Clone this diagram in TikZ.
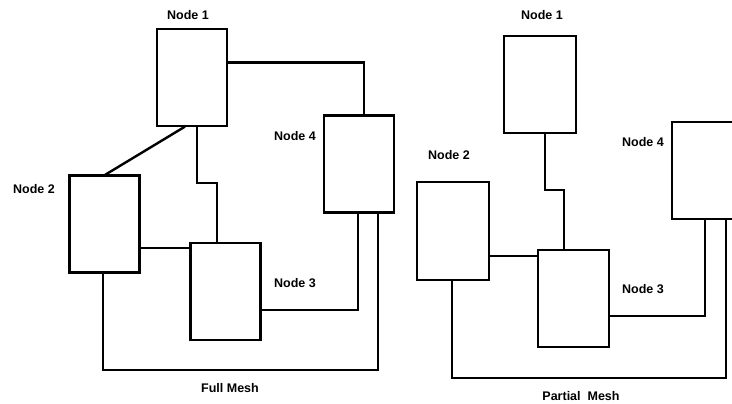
\documentclass[tikz,border=0pt]{standalone}
\usepackage{fontspec}
\setmainfont{Liberation Sans}
\usetikzlibrary{positioning}

\begin{document}
\begin{tikzpicture}[x=1pt,y=-1pt,line width=2.4pt,line cap=rect]
\tikzstyle{box}=[draw=black,fill=white,minimum width=70pt,minimum height=97pt,inner sep=0pt]
\tikzstyle{lbl}=[inner sep=0pt,font=\bfseries\fontsize{12.5}{14}\selectfont]
\useasboundingbox (0,0) rectangle (732,404);
\clip (0,0) rectangle (732,404);
% full mesh
\node[box] (fn1) at (192,77.5) {};
\node[box] (fn2) at (104.5,224) {};
\node[box] (fn3) at (225.5,291.5) {};
\node[box] (fn4) at (359,164) {};
\node[lbl] (fl1) at (188,15) {Node 1};
\node[lbl] (fl2) at (34,189) {Node 2};
\node[lbl] (fl3) at (295,283) {Node 3};
\node[lbl] (fl4) at (295,136) {Node 4};
\node[lbl] (fcap) at (230,388) {Full Mesh};
\draw ([yshift=15pt]fn1.east) -| ([xshift=5pt]fn4.north);
\draw ([xshift=-8pt]fn1.south) -- ([xshift=1.5pt]fn2.north);
\draw ([xshift=5pt]fn1.south) -- ++(0,56) -| ([xshift=-8.5pt]fn3.north);
\draw ([yshift=-6pt]fn3.north west) coordinate (f23) -- (fn2.east |- f23);
\draw ([yshift=-18.5pt]fn3.east) -| ([xshift=-1pt]fn4.south);
\draw ([xshift=-1.5pt]fn2.south) -- ++(0,96) -| ([xshift=19pt]fn4.south);
% partial mesh
\node[box,minimum width=72pt] (pn1) at (540,84.5) {};
\node[box,minimum width=72pt,minimum height=98pt] (pn2) at (453,231) {};
\node[box,minimum width=71pt] (pn3) at (573.5,298.5) {};
\node[box] (pn4) at (707,170.5) {};
\node[lbl] (pl1) at (542,15) {Node 1};
\node[lbl] (pl2) at (449,155) {Node 2};
\node[lbl] (pl3) at (643,289) {Node 3};
\node[lbl] (pl4) at (643,142) {Node 4};
\node[lbl] (pcap) at (581,396) {Partial\ \ Mesh};
\draw ([xshift=5pt]pn1.south) -- ++(0,56) -| ([xshift=-9.5pt]pn3.north);
\draw ([yshift=-7pt]pn3.north west) coordinate (p23) -- (pn2.east |- p23);
\draw ([yshift=-17.5pt]pn3.east) -| ([xshift=-2pt]pn4.south);
\draw ([xshift=-1pt]pn2.south) -- ++(0,97) -| ([xshift=19pt]pn4.south);
\end{tikzpicture}
\end{document}
